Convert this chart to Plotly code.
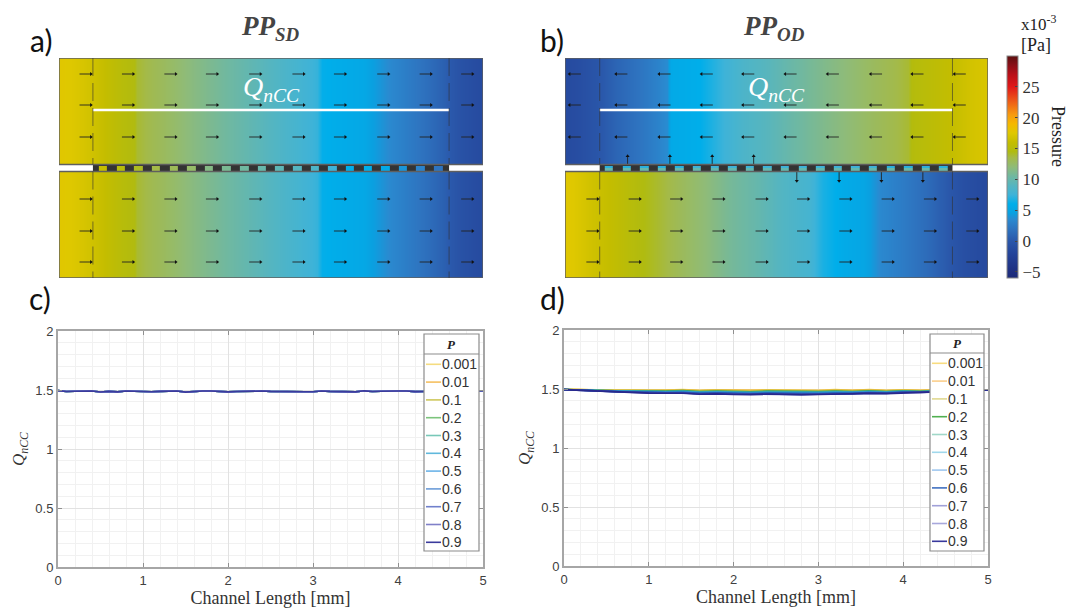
import plotly.graph_objects as go

W, H = 1067, 609
SERIF = "Liberation Serif"
SANS = "Liberation Sans"

# ---------- pressure colour scale (value, colour) ----------
P_MIN, P_MAX = -6, 30
scale_values = [-6, -5, -2, 0, 2, 3.5, 4.5, 6, 7.5, 9, 10.5, 12, 13.5, 14.5, 16, 17.5, 19, 20.5, 22.5, 25, 27, 28.5, 30]
scale_colors = ["#1c2a78", "#1f2f80", "#24449a", "#2a57aa", "#2e74c0", "#2a8ad0", "#0aa0e0", "#00aeea", "#3eb3d8",
                "#55b5c0", "#70b8a0", "#8fbb78", "#a4ba48", "#b0bb10", "#c4bd00", "#dfc800", "#f5b800", "#f79a10",
                "#ee6018", "#e01818", "#b80f18", "#8a1018", "#5c1010"]
colorbar_ticks = [-5, 0, 5, 10, 15, 20, 25]

# ---------- pressure fields (column centres in mm, value in each column) ----------
a_x = [0, .12, .3, .5, .75, .88, .92, 1.1, 1.35, 1.6, 1.88, 2.15, 2.42, 2.68, 2.93, 3.04, 3.1, 3.35, 3.6, 3.68, 3.9, 4.1, 4.3, 4.5, 4.7, 4.9, 5]
a_field = [17.6, 17.5, 17, 16.2, 15, 14.6, 13.9, 13.2, 12.5, 11.6, 10.8, 10, 9.2, 8.4, 7.7, 7.3, 6.1, 5.7, 5.3, 4.6, 3.4, 2.6, 1.8, .8, -.4, -1.1, -1.3]
b_top_x = [0, .12, .38, .62, .88, 1.1, 1.2, 1.25, 1.6, 1.88, 2.12, 2.4, 2.68, 2.95, 3.25, 3.55, 3.9, 4.05, 4.1, 4.25, 4.5, 4.8, 5]
b_top_field = [-1.3, -1.1, -.2, 1, 2, 3, 3.6, 5.5, 6, 7.5, 8.5, 9.2, 10.2, 11, 11.8, 12.6, 13.4, 13.9, 14.8, 15.2, 15.8, 16.8, 17.2]
b_bot_x = [0, .1, .32, .52, .78, 1.08, 1.35, 1.65, 1.95, 2.25, 2.58, 2.88, 3.05, 3.3, 3.52, 3.6, 3.72, 4.0, 4.28, 4.5, 4.7, 4.9, 5]
b_bot_field = [17.6, 17.5, 16.6, 16, 15, 14, 13, 12, 10.8, 10, 8.8, 8, 6.6, 5.6, 5.1, 4.4, 3.4, 2.5, 1.4, .2, -.8, -1.3, -1.4]

# pore channel squares
chip_centres = [.52, .728, .936, 1.144, 1.352, 1.56, 1.768, 1.976, 2.184, 2.392, 2.6, 2.808, 3.016, 3.224, 3.432,
                3.64, 3.848, 4.056, 4.264, 4.472]
a_chips = [16, 15, 14.2, 13.5, 13, 12.5, 11.5, 11, 10.5, 10, 9.5, 9, 8.5, 7.5, 6, 6, 5.5, 4, 3, 2]
b_chips_upper = [7, 7, 7, 7, 7, 7.5, 7.5, 7.5, 7.5, 7.5, 7.5, 7.5, 7.5, 7.5, 7.5, 7.5, 7, 7, 7, 7]
b_chips_lower = [10, 10, 10, 10, 10, 9.8, 9.8, 9.8, 9.8, 9.8, 9.8, 9.8, 9.8, 9.8, 9.8, 9.8, 10, 10, 10, 10]

# arrows (mm along channel; row in px-like domain units from panel top)
arrow_rows_top = [16, 47, 79]
arrow_rows_bottom = [141, 173, 204]
a_arrow_x = [.31, .81, 1.31, 1.80, 2.31, 2.82, 3.31, 3.82, 4.32, 4.81]
b_top_arrow_x = [.12, .67, 1.18, 1.68, 2.17, 2.67, 3.17, 3.68, 4.17, 4.67]
b_bot_arrow_x = [.32, .82, 1.31, 1.81, 2.32, 2.81, 3.31, 3.81, 4.31, 4.81]
b_up_arrow_x = [.74, 1.24, 1.74, 2.23]
b_down_arrow_x = [2.74, 3.24, 3.74, 4.23]

# ---------- Q_nCC curves ----------
P_labels = ["0.001", "0.01", "0.1", "0.2", "0.3", "0.4", "0.5", "0.6", "0.7", "0.8", "0.9"]
c_colors = ["#f5dc80", "#f5c060", "#cfc85c", "#7cc47c", "#78c8b8", "#60b8dc", "#6cb4e8", "#6c9cd8", "#7080cc", "#8080c8", "#3a3a9c"]
d_colors = ["#f8dc80", "#fbcf8c", "#e0d890", "#50b050", "#a0d8c8", "#a0d8ec", "#a0c8f0", "#4070c0", "#a0a0d8", "#a8a8dc", "#38389c"]
d_line_colors = ["#f2d050", "#f0b840", "#c8c040", "#40a850", "#30a8a0", "#30a0d0", "#3090d8", "#2060b8", "#3050b0", "#3848a8", "#28288c"]

c_x = [i / 10 for i in range(51)]
c_y = [1.495, 1.487, 1.489, 1.491, 1.492, 1.483, 1.488, 1.484, 1.491, 1.489, 1.486, 1.485, 1.488, 1.490, 1.492, 1.482,
       1.489, 1.491, 1.492, 1.488, 1.484, 1.487, 1.489, 1.486, 1.491, 1.488, 1.486, 1.489, 1.487, 1.485, 1.485, 1.492,
       1.488, 1.486, 1.489, 1.484, 1.493, 1.487, 1.490, 1.488, 1.491, 1.492, 1.486, 1.487, 1.490, 1.488, 1.489, 1.490,
       1.491, 1.492, 1.494]

d_x = [i / 5 for i in range(26)]
d_y = {
 "0.001": [1.497,1.494,1.496,1.491,1.492,1.488,1.491,1.495,1.489,1.494,1.492,1.488,1.494,1.491,1.486,1.489,1.495,1.490,1.496,1.488,1.494,1.490,1.494,1.491,1.493,1.494],
 "0.01":  [1.497,1.493,1.494,1.490,1.490,1.487,1.489,1.493,1.487,1.491,1.490,1.486,1.491,1.489,1.485,1.487,1.492,1.488,1.493,1.487,1.492,1.488,1.492,1.490,1.492,1.494],
 "0.1":   [1.497,1.492,1.492,1.488,1.488,1.484,1.486,1.490,1.484,1.488,1.486,1.482,1.488,1.485,1.481,1.483,1.489,1.484,1.490,1.484,1.489,1.485,1.489,1.488,1.491,1.494],
 "0.2":   [1.496,1.491,1.490,1.485,1.485,1.481,1.482,1.486,1.479,1.483,1.481,1.477,1.482,1.480,1.476,1.478,1.483,1.479,1.485,1.479,1.485,1.481,1.486,1.486,1.490,1.494],
 "0.3":   [1.496,1.490,1.488,1.484,1.482,1.478,1.479,1.482,1.475,1.479,1.476,1.473,1.478,1.475,1.472,1.474,1.479,1.475,1.481,1.476,1.482,1.479,1.484,1.485,1.489,1.494],
 "0.4":   [1.496,1.489,1.487,1.482,1.480,1.475,1.476,1.478,1.471,1.475,1.471,1.469,1.473,1.471,1.467,1.470,1.474,1.471,1.477,1.473,1.479,1.477,1.482,1.484,1.489,1.494],
 "0.5":   [1.496,1.489,1.486,1.480,1.478,1.472,1.473,1.475,1.467,1.471,1.467,1.465,1.469,1.467,1.463,1.466,1.470,1.468,1.474,1.470,1.476,1.475,1.480,1.483,1.488,1.494],
 "0.6":   [1.496,1.489,1.485,1.479,1.476,1.470,1.470,1.471,1.464,1.467,1.463,1.461,1.465,1.463,1.459,1.462,1.466,1.464,1.470,1.467,1.474,1.473,1.479,1.482,1.488,1.494],
 "0.7":   [1.495,1.488,1.485,1.478,1.474,1.468,1.468,1.468,1.461,1.464,1.459,1.458,1.462,1.459,1.455,1.458,1.462,1.461,1.467,1.464,1.472,1.472,1.478,1.481,1.488,1.494],
 "0.8":   [1.495,1.488,1.484,1.476,1.473,1.466,1.466,1.466,1.458,1.461,1.457,1.455,1.459,1.457,1.452,1.455,1.460,1.458,1.465,1.462,1.470,1.470,1.477,1.480,1.487,1.493],
 "0.9":   [1.495,1.488,1.484,1.475,1.472,1.465,1.464,1.464,1.456,1.459,1.454,1.452,1.458,1.453,1.451,1.454,1.458,1.456,1.463,1.461,1.468,1.469,1.476,1.480,1.487,1.493],
}

# ---------- layout helpers ----------
def fx(px): return px / W
def fy(py): return 1 - py / H
def dom(a, b): return [a / W, b / W]
def domy(top, bottom): return [1 - bottom / H, 1 - top / H]

fig = go.Figure()
colorscale = [[(v - P_MIN) / (P_MAX - P_MIN), c] for v, c in zip(scale_values, scale_colors)]

layout = dict(
    width=W, height=H, margin=dict(l=0, r=0, t=0, b=0, autoexpand=False), autosize=False,
    paper_bgcolor="white", plot_bgcolor="rgba(0,0,0,0)", showlegend=False,
    coloraxis=dict(cmin=P_MIN, cmax=P_MAX, colorscale=colorscale,
                   colorbar=dict(x=fx(1007), xanchor="left", y=fy(56), yanchor="top",
                                 lenmode="pixels", len=222, thicknessmode="pixels", thickness=11,
                                 xpad=0, ypad=0, outlinecolor="#8a8a8a", outlinewidth=1,
                                 tickmode="array", tickvals=colorbar_ticks, ticks="inside", ticklen=3,
                                 tickcolor="#444", ticklabelposition="outside",
                                 tickfont=dict(family=SERIF, size=17, color="#333"))),
)

shapes, annotations = [], []

# ---------- flow panels ----------
for ax, x0, x1 in [("", 59, 483), ("2", 565, 988)]:
    layout["xaxis" + ax] = dict(domain=dom(x0, x1), range=[0, 5], visible=False, fixedrange=True)
    layout["yaxis" + ax] = dict(domain=domy(58, 278), range=[220, 0], visible=False, fixedrange=True)

def field(xs, vals, ytop, ybot, ax):
    fig.add_trace(go.Heatmap(x=xs, y=[ytop, (ytop + ybot) / 2, ybot], z=[vals, vals], coloraxis="coloraxis",
                             zsmooth="best", xaxis="x" + ax, yaxis="y" + ax, hoverinfo="skip"))

def chips(rows, y_edges, ax):
    edges, z = [], [[] for _ in rows]
    half = .05
    for i, c in enumerate(chip_centres):
        edges += [c - half, c + half]
        for r, row in enumerate(rows):
            z[r].append(row[i])
            if i < len(chip_centres) - 1:
                z[r].append(None)
    fig.add_trace(go.Heatmap(x=edges, y=y_edges, z=z, coloraxis="coloraxis",
                             xaxis="x" + ax, yaxis="y" + ax, hoverinfo="skip"))

def arrows(xs, rows, ax, dx=0.0, dy=0.0, length=.15, symbol="triangle-right"):
    lx, ly, hx, hy = [], [], [], []
    for y in rows:
        for x in xs:
            lx += [x - dx * length, x + dx * length, None]
            ly += [y - dy, y + dy, None]
            hx.append(x + dx * length)
            hy.append(y + dy)
    fig.add_trace(go.Scatter(x=lx, y=ly, mode="lines", line=dict(color="#222222", width=0.9),
                             xaxis="x" + ax, yaxis="y" + ax, hoverinfo="skip"))
    fig.add_trace(go.Scatter(x=hx, y=hy, mode="markers", marker=dict(symbol=symbol, size=3.5, color="#111111"),
                             xaxis="x" + ax, yaxis="y" + ax, hoverinfo="skip"))

def panel_frames(ax, bar_x0, bar_x1):
    for yt, yb in [(0, 106.5), (113.5, 220)]:
        shapes.append(dict(type="rect", xref="x" + ax, yref="y" + ax, x0=0, x1=5, y0=yt, y1=yb,
                           line=dict(color="#5f5f5f", width=1.4), layer="above"))
        for x in (bar_x0, bar_x1):
            shapes.append(dict(type="line", xref="x" + ax, yref="y" + ax, x0=x, x1=x, y0=yt, y1=yb,
                               line=dict(color="rgba(50,50,50,0.6)", width=1, dash="18px,7px"), layer="above"))
    shapes.append(dict(type="rect", xref="x" + ax, yref="y" + ax, x0=bar_x0, x1=bar_x1, y0=106.5, y1=114,
                       fillcolor="#333333", line=dict(width=0), layer="below"))

# panel a
field(a_x, a_field, 0, 106.5, "")
field(a_x, a_field, 113.5, 220, "")
chips([a_chips], [108, 112.6], "")
arrows(a_arrow_x, arrow_rows_top + arrow_rows_bottom, "", dx=.45)
fig.add_trace(go.Scatter(x=[.4, 4.6], y=[52, 52], mode="lines", line=dict(color="white", width=2.5), xaxis="x", yaxis="y", hoverinfo="skip"))
panel_frames("", .4, 4.6)

# panel b
field(b_top_x, b_top_field, 0, 106.5, "2")
field(b_bot_x, b_bot_field, 113.5, 220, "2")
chips([b_chips_upper, b_chips_lower], [108, 110, 112.6], "2")
arrows(b_top_arrow_x, arrow_rows_top, "2", dx=-.45, symbol="triangle-left")
arrows(b_bot_arrow_x, arrow_rows_bottom, "2", dx=.45)
arrows(b_up_arrow_x, [102.5], "2", dy=-4.5, length=0, symbol="triangle-up")
arrows(b_down_arrow_x, [118.5], "2", dy=4.5, length=0, symbol="triangle-down")
fig.add_trace(go.Scatter(x=[.41, 4.58], y=[52, 52], mode="lines", line=dict(color="white", width=2.5), xaxis="x2", yaxis="y2", hoverinfo="skip"))
panel_frames("2", .41, 4.58)

# ---------- line charts ----------
for i, (ax, x0, x1, top, bottom) in enumerate([("3", 58, 483, 331, 567), ("4", 564, 988, 330, 566)]):
    layout["xaxis" + ax] = dict(
        domain=dom(x0, x1), range=[0, 5], anchor="y" + ax, tickvals=[0, 1, 2, 3, 4, 5],
        ticks="inside", ticklen=4, tickcolor="#8f8f8f", mirror="allticks", showline=True,
        linecolor="#a6a6a6", linewidth=2, gridcolor="#e2e2e2", gridwidth=1, zeroline=False,
        minor=dict(dtick=.2, showgrid=True, gridcolor="#f1f1f1", gridwidth=1, ticks=""),
        tickfont=dict(family=SANS, size=13, color="#404040"), fixedrange=True,
        title=dict(text="Channel Length [mm]", font=dict(family=SERIF, size=18, color="#333"), standoff=5))
    layout["yaxis" + ax] = dict(
        domain=domy(top, bottom), range=[0, 2], anchor="x" + ax, tickvals=[0, .5, 1, 1.5, 2], ticktext=["0", "0.5", "1", "1.5", "2"],
        ticks="inside", ticklen=4, tickcolor="#8f8f8f", mirror="allticks", showline=True,
        linecolor="#a6a6a6", linewidth=2, gridcolor="#e2e2e2", gridwidth=1, zeroline=False,
        minor=dict(dtick=.1, showgrid=True, gridcolor="#f1f1f1", gridwidth=1, ticks=""),
        tickfont=dict(family=SANS, size=13, color="#404040"), fixedrange=True,
        title=dict(text="<i>Q<sub>nCC</sub></i>", font=dict(family=SERIF, size=17, color="#333"), standoff=6))

for lab, col in zip(P_labels, c_colors):
    fig.add_trace(go.Scatter(x=c_x, y=c_y, mode="lines", name=lab, line=dict(color=col, width=1.6), xaxis="x3", yaxis="y3", hoverinfo="skip"))
for lab, col in zip(P_labels, d_line_colors):
    fig.add_trace(go.Scatter(x=d_x, y=d_y[lab], mode="lines", name=lab, line=dict(color=col, width=1.6), xaxis="x4", yaxis="y4", hoverinfo="skip"))

# ---------- text ----------
def label(px, py, text, size, family, color="#222", xanchor="center", **kw):
    annotations.append(dict(x=fx(px), y=fy(py), xref="paper", yref="paper", showarrow=False, text=text,
                            xanchor=xanchor, yanchor="middle", borderpad=0, borderwidth=0,
                            font=dict(family=family, size=size, color=color), **kw))

# ---------- hand-placed legends (row pitch tighter than plotly's own legend) ----------
for bx0, bx1, by0, bdiv, by1, cols in [(424, 479, 334, 354, 551, c_colors), (930, 984, 334, 353, 551, d_colors)]:
    shapes.append(dict(type="rect", xref="paper", yref="paper", x0=fx(bx0), x1=fx(bx1), y0=fy(by0), y1=fy(by1),
                       fillcolor="white", line=dict(color="#8c8c8c", width=1.2), layer="above"))
    shapes.append(dict(type="line", xref="paper", yref="paper", x0=fx(bx0), x1=fx(bx1), y0=fy(bdiv), y1=fy(bdiv),
                       line=dict(color="#8c8c8c", width=1.2), layer="above"))
    label((bx0 + bx1) / 2, bdiv - 10, "<b><i>P</i></b>", 13, SERIF, "#222")
    for k, (lab, col) in enumerate(zip(P_labels, cols)):
        ry = bdiv + 10.3 + 17.8 * k
        shapes.append(dict(type="line", xref="paper", yref="paper", x0=fx(bx0 + 2), x1=fx(bx0 + 17), y0=fy(ry), y1=fy(ry),
                           line=dict(color=col, width=1.6), layer="above"))
        label(bx0 + 17.5, ry, lab, 14, SANS, "#333", xanchor="left")

for t, px, py in [("a)", 41, 40), ("b)", 552, 40), ("c)", 40, 298), ("d)", 552, 298)]:
    label(px, py, t, 30, "Lato", "#111")
label(270, 28, "<b><i>PP<sub>SD</sub></i></b>", 27, SERIF, "#444")
label(774, 28, "<b><i>PP<sub>OD</sub></i></b>", 27, SERIF, "#444")
label(271, 88, "<i>Q<sub>nCC</sub></i>", 28, SERIF, "white")
label(776, 88, "<i>Q<sub>nCC</sub></i>", 28, SERIF, "white")
label(1021, 23, "x10<sup>-3</sup>", 17, SERIF, "#222", xanchor="left")
label(1021, 45, "[Pa]", 18, SERIF, "#222", xanchor="left")
label(1058, 136, "Pressure", 18, SERIF, "#222", textangle=90)

layout["shapes"] = shapes
layout["annotations"] = annotations
fig.update_layout(**layout)
fig.write_html("out.html", config={"displayModeBar": False},
               post_script="document.body.style.margin='0';")
